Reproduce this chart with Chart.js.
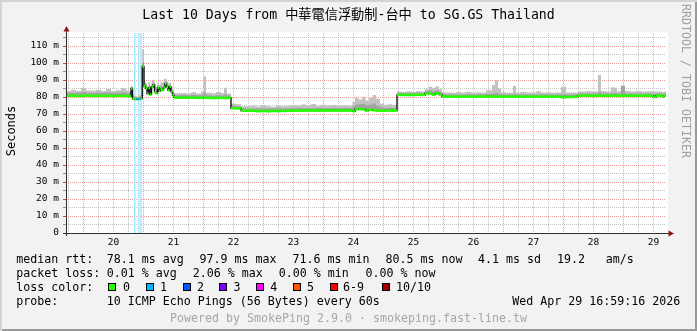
<!DOCTYPE html>
<html>
<head>
<meta charset="utf-8">
<title>SmokePing - SG.GS Thailand</title>
<script src="https://cdn.jsdelivr.net/npm/chart.js@4.4.1/dist/chart.umd.min.js"></script>
<style>
  html, body { margin: 0; padding: 0; background: #f2f2f2; }
  #graph { position: relative; width: 697px; height: 331px; overflow: hidden; background: #f2f2f2;
           box-shadow: inset 2px 2px 0 #d4d4d4, inset -2px -2px 0 #9a9a9a; }
  #graph canvas { position: absolute; left: 0; top: 0; }
  .t { position: absolute; font-family: 'DejaVu Sans Mono', monospace; font-size: 11.63px; line-height: 14px; white-space: pre; color: #000; }
  .l1 { top: 251.7px; } .l2 { top: 265.7px; } .l3 { top: 279.7px; } .l4 { top: 293.7px; }
  #title { left: 0; width: 697px; top: 6.7px; text-align: center; font-size: 13.2px; line-height: 16px;
           font-family: 'DejaVu Sans Mono', 'Noto Sans CJK TC', monospace; }
  #ytitle { left: -19.5px; top: 124px; width: 60px; text-align: center; transform: rotate(-90deg); font-size: 12px; }
  #side { left: 693px; top: 4px; color: #a0a0a0; transform-origin: 0 0; transform: rotate(90deg); }
  #powered { left: 0; width: 697px; text-align: center; top: 310.7px; color: #a6a6a6; }
  .box { position: absolute; top: 283px; width: 6px; height: 6px; border: 1px solid #000; }
</style>
</head>
<body>
<div id="graph">
  <canvas id="chart" width="697" height="331"></canvas>
  <div class="t" id="title">Last 10 Days from 中華電信浮動制-台中 to SG.GS Thailand</div>
  <div class="t" id="ytitle">Seconds</div>
  <div class="t" id="side">RRDTOOL / TOBI OETIKER</div>

  <div class="t l1" style="left:16.3px">median rtt:</div>
  <div class="t l1" style="left:106.7px">78.1 ms avg</div>
  <div class="t l1" style="left:199.4px">97.9 ms max</div>
  <div class="t l1" style="left:292.6px">71.6 ms min</div>
  <div class="t l1" style="left:385.4px">80.5 ms now</div>
  <div class="t l1" style="left:478px">4.1 ms sd</div>
  <div class="t l1" style="left:557px">19.2</div>
  <div class="t l1" style="left:605.8px">am/s</div>

  <div class="t l2" style="left:16.3px">packet loss:</div>
  <div class="t l2" style="left:106.7px">0.01 % avg</div>
  <div class="t l2" style="left:192.7px">2.06 % max</div>
  <div class="t l2" style="left:278.7px">0.00 % min</div>
  <div class="t l2" style="left:365.4px">0.00 % now</div>

  <div class="t l3" style="left:16.3px">loss color:</div>
  <span class="box" style="left:108.3px;background:#26ff00"></span><div class="t l3" style="left:123px">0</div>
  <span class="box" style="left:145.7px;background:#00b8ff"></span><div class="t l3" style="left:160px">1</div>
  <span class="box" style="left:182.7px;background:#0059ff"></span><div class="t l3" style="left:197px">2</div>
  <span class="box" style="left:219.3px;background:#7e00ff"></span><div class="t l3" style="left:233.6px">3</div>
  <span class="box" style="left:256px;background:#ff00ff"></span><div class="t l3" style="left:270.3px">4</div>
  <span class="box" style="left:292.7px;background:#ff5500"></span><div class="t l3" style="left:307px">5</div>
  <span class="box" style="left:330px;background:#ff0000"></span><div class="t l3" style="left:343px">6-9</div>
  <span class="box" style="left:381.7px;background:#a10000"></span><div class="t l3" style="left:396px">10/10</div>

  <div class="t l4" style="left:16.3px">probe:</div>
  <div class="t l4" style="left:106.7px">10 ICMP Echo Pings (56 Bytes) every 60s</div>
  <div class="t l4" style="left:512.3px">Wed Apr 29 16:59:16 2026</div>
  <div class="t" id="powered">Powered by SmokePing 2.9.0 · smokeping.fast-line.tw</div>
</div>

<script>
// time axis: hours since Apr 19 17:00, 240 h = 10 days
const hours = [
  0, 2, 4, 6, 8, 10, 12, 14, 16, 18, 20, 22, 24, 25.4,
  26, 26.6, 27.4, 28.2, 29, 29.8, 30.5, 31.2, 31.8, 32.4, 33, 33.6, 34.2, 34.8, 35.4,
  36, 36.6, 37.2, 37.8, 38.4, 39, 39.6, 40.2, 40.8, 41.4, 42, 42.6, 43.2, 44,
  46, 48, 50, 52, 54, 55, 56, 58, 60, 62, 63.2, 64.4, 65, 66, 68, 70,
  72, 74, 76, 78, 80, 82, 84, 86, 88, 90, 92, 94, 96, 98, 100, 102, 104, 106, 108, 110, 112, 114,
  114.6, 115.6, 117, 118.4, 119.8, 121.2, 122.6, 124, 125.6, 127.2, 128.8, 130.4, 132.4,
  134, 136, 138, 140, 142, 143.6, 145, 146.4, 147.8, 149.2, 150.4,
  152, 154, 156, 158, 160, 162, 164, 166, 168, 170.4, 171.6, 172.8, 174, 176, 178.8,
  180, 182, 184, 186, 188, 190, 192, 194, 196, 198, 200, 202, 204.8,
  206, 208, 210, 212.8, 214, 216, 218, 219.2, 220.4, 222, 223.6, 226, 228, 230, 232, 234.8, 236, 238.4, 239.2, 240
];

// median rtt (ms)
const median = [
  80.8, 80.7, 80.6, 80.7, 80.8, 80.6, 80.7, 80.6, 80.7, 80.6, 80.7, 80.6, 80.5, 80.4,
  85.0, 78.9, 78.8, 78.7, 78.9, 79.1, 97.9, 86.5, 85.0, 82.0, 85.5, 81.5, 86.0, 87.2, 83.0,
  82.2, 85.5, 83.5, 84.8, 84.2, 85.5, 87.8, 86.0, 84.0, 86.0, 83.0, 81.0, 79.8, 79.6,
  79.7, 79.6, 79.6, 79.5, 79.6, 79.6, 79.5, 79.4, 79.5, 79.5, 79.4, 79.5, 79.6, 73.4, 73.3, 72.0,
  72.0, 71.9, 71.7, 71.8, 71.6, 71.8, 71.7, 71.9, 72.0, 72.0, 72.0, 72.0, 72.1, 72.0, 72.0, 72.1, 72.0, 72.1, 72.0, 72.0, 72.1, 72.0,
  71.6, 72.8, 72.9, 72.7, 72.0, 72.6, 72.2, 72.0, 72.0, 72.0, 72.1, 72.0, 81.2,
  81.3, 81.2, 81.2, 81.3, 81.2, 82.2, 82.0, 81.4, 82.1, 81.5, 80.3,
  80.2, 80.2, 80.1, 80.2, 80.2, 80.1, 80.2, 80.2, 80.3, 80.2, 80.2, 80.2, 80.1, 80.2, 80.2,
  80.2, 80.1, 80.2, 80.1, 80.2, 80.1, 80.2, 80.1, 80.2, 79.8, 80.0, 80.1, 80.8,
  80.8, 80.8, 80.7, 80.8, 80.8, 80.7, 80.8, 80.8, 80.7, 80.8, 80.8, 80.7, 80.8, 80.8, 80.7, 80.0, 80.8, 80.2, 80.8, 80.5
];

// top of the dense (dark) smoke
const smokeMid = [
  82.6, 82.4, 82.7, 82.9, 82.5, 82.4, 82.6, 82.5, 82.6, 82.4, 82.5, 82.6, 82.4, 82.3,
  86.0, 80.3, 79.8, 79.6, 79.8, 80.2, 100.5, 88.0, 86.6, 84.0, 87.0, 83.5, 87.5, 88.5, 85.0,
  84.0, 87.0, 85.2, 86.5, 86.0, 87.2, 89.0, 87.6, 86.0, 87.2, 84.5, 82.5, 81.2, 81.0,
  81.2, 81.0, 81.3, 81.0, 81.2, 82.5, 81.0, 80.8, 81.0, 80.9, 81.4, 80.8, 80.9, 74.8, 74.6, 73.4,
  73.3, 73.2, 73.3, 73.2, 73.3, 73.2, 73.4, 73.2, 73.3, 73.4, 73.5, 73.4, 73.5, 73.4, 73.5, 73.6, 73.5, 73.6, 73.5, 73.6, 73.5, 73.4,
  74.5, 75.5, 75.8, 76.0, 75.2, 75.6, 76.2, 74.8, 73.8, 73.6, 73.7, 73.5, 82.3,
  82.4, 82.3, 82.4, 82.5, 82.4, 83.5, 83.8, 83.2, 83.9, 83.0, 81.5,
  81.5, 81.4, 81.5, 81.5, 81.6, 81.5, 81.5, 81.6, 81.8, 82.0, 82.5, 81.8, 81.5, 81.5, 81.8,
  81.5, 81.5, 81.4, 81.5, 81.5, 81.4, 81.5, 81.5, 81.4, 81.6, 81.4, 81.5, 82.0,
  82.0, 82.1, 82.0, 83.0, 82.1, 82.0, 82.2, 82.4, 82.0, 86.5, 82.1, 82.0, 82.1, 82.0, 82.1, 81.8, 82.0, 81.8, 82.0, 82.0
];

// highest ping of each sample (light smoke)
const smokeTop = [
  83.6, 84.3, 83.5, 85.3, 83.8, 83.7, 84.1, 83.5, 84.7, 83.6, 84.0, 85.2, 83.8, 83.5,
  86.5, 81.5, 80.6, 80.5, 81.0, 81.2, 108.3, 89.5, 88.0, 86.0, 89.0, 86.5, 89.5, 90.2, 87.5,
  86.0, 88.8, 87.0, 89.0, 88.5, 90.5, 90.8, 89.2, 88.0, 88.5, 86.0, 84.0, 82.5, 82.2,
  82.3, 82.0, 82.8, 82.0, 83.2, 92.0, 82.5, 82.2, 83.0, 82.4, 85.5, 82.0, 82.0, 76.0, 75.8, 74.6,
  74.5, 74.8, 74.4, 75.3, 74.6, 74.3, 75.0, 74.5, 74.7, 75.2, 74.8, 75.6, 75.0, 75.9, 74.9, 75.4, 74.8, 75.3, 74.9, 75.2, 74.8, 74.7,
  77.0, 79.5, 78.5, 80.2, 78.0, 79.5, 81.2, 79.0, 76.0, 75.5, 75.8, 75.2, 83.2,
  83.0, 83.4, 83.1, 83.5, 83.2, 84.5, 86.0, 85.5, 86.2, 84.5, 82.8,
  82.7, 82.5, 83.0, 82.6, 82.9, 82.6, 82.8, 82.7, 84.0, 87.0, 90.0, 85.0, 82.8, 82.5, 86.6,
  82.6, 82.9, 82.6, 82.7, 83.4, 82.6, 82.8, 82.5, 82.7, 86.0, 82.6, 82.7, 83.4,
  83.2, 83.5, 83.3, 93.0, 83.6, 83.2, 85.8, 85.5, 83.4, 86.8, 83.5, 83.3, 83.6, 83.2, 83.4, 83.3, 83.3, 83.0, 83.2, 83.2
];

// columns where pings were lost, and the median samples that carry a loss colour
const lossHours = [27.5, 29.1, 30.0];
const lossMedianHours = [28.2, 29.0];
const lossMedianCount = [1, 1];

const dayLabels = ['20', '21', '22', '23', '24', '25', '26', '27', '28', '29'];
const lossColors = ['#26ff00', '#00b8ff', '#0059ff', '#7e00ff', '#ff00ff', '#ff5500', '#ff0000', '#a10000'];

const Y_MAX = 117.65;
const X_END = 240;
const GRID_MINOR = 'rgba(150,150,150,0.55)';
const GRID_MAJOR = 'rgba(215,60,60,0.5)';
const TICK_MINOR = 'rgba(110,110,110,0.7)';
const TICK_MAJOR = 'rgba(170,40,40,0.8)';

Chart.defaults.font.family = "'DejaVu Sans Mono', monospace";

function sampleColor(i) {
  const k = lossMedianHours.indexOf(hours[i]);
  return k < 0 ? lossColors[0] : lossColors[lossMedianCount[k]];
}

const pts = arr => hours.map((h, i) => ({ x: h, y: arr[i] }));

const isMidnight = c => !!c.tick && (c.tick.value - 7) % 24 === 0;
const isTen = c => !!c.tick && c.tick.value % 10 === 0;

// flat pieces of the median only, so jumps show the dark line underneath
const medianPieces = [];
for (let i = 0; i < hours.length - 1; i++) {
  medianPieces.push({ x: hours[i], y: median[i] }, { x: hours[i + 1], y: median[i] }, { x: hours[i + 1], y: null });
}

// full-height loss columns, one vertical stroke each
const lossColumns = [];
lossHours.forEach(h => lossColumns.push({ x: h, y: 0 }, { x: h, y: Y_MAX }, { x: h, y: null }));

const frame = {
  id: 'frame',
  beforeDraw(chart) {
    const { ctx, chartArea: a } = chart;
    ctx.save();
    ctx.fillStyle = '#ffffff';
    ctx.fillRect(a.left, a.top - 1, a.right - a.left + 2, a.bottom - a.top + 1);
    ctx.restore();
  },
  afterDraw(chart) {
    const { ctx, chartArea: a } = chart;
    ctx.save();
    ctx.strokeStyle = '#303030';
    ctx.lineWidth = 1;
    ctx.beginPath();
    ctx.moveTo(a.left + 0.5, a.bottom + 3);
    ctx.lineTo(a.left + 0.5, a.top - 3);
    ctx.moveTo(a.left - 3, a.bottom + 0.5);
    ctx.lineTo(a.right + 4, a.bottom + 0.5);
    ctx.stroke();
    ctx.fillStyle = '#8c1414';
    ctx.beginPath();
    ctx.moveTo(a.left + 0.5, a.top - 7);
    ctx.lineTo(a.left - 2.5, a.top - 1.5);
    ctx.lineTo(a.left + 3.5, a.top - 1.5);
    ctx.fill();
    ctx.beginPath();
    ctx.moveTo(a.right + 8, a.bottom + 0.5);
    ctx.lineTo(a.right + 2.5, a.bottom - 2.5);
    ctx.lineTo(a.right + 2.5, a.bottom + 3.5);
    ctx.fill();
    ctx.restore();
  }
};

new Chart(document.getElementById('chart'), {
  type: 'line',
  data: {
    datasets: [
      { data: lossColumns, borderColor: '#a9e3fa', borderWidth: 1.4, borderCapStyle: 'butt',
        pointRadius: 0, fill: false, order: 5 },
      { data: pts(smokeTop), stepped: true, borderWidth: 0, borderColor: 'rgba(0,0,0,0)', pointRadius: 0,
        backgroundColor: '#c2c2c2', fill: 3, order: 4 },
      { data: pts(smokeMid), stepped: true, borderWidth: 0, borderColor: 'rgba(0,0,0,0)', pointRadius: 0,
        backgroundColor: '#a2a2a2', fill: 3, order: 3 },
      { data: pts(median), stepped: true, borderColor: '#111111', borderWidth: 1.4, pointRadius: 0,
        fill: false, order: 2 },
      { data: medianPieces, borderWidth: 2.6, borderCapStyle: 'butt', pointRadius: 0, fill: false, order: 1,
        borderColor: lossColors[0],
        segment: { borderColor: c => sampleColor(Math.floor(c.p0DataIndex / 3)) } }
    ]
  },
  options: {
    responsive: false,
    animation: false,
    devicePixelRatio: 1,
    layout: { padding: { left: 0, top: 33, right: 31, bottom: 82 } },
    plugins: { legend: { display: false }, tooltip: { enabled: false } },
    scales: {
      x: {
        type: 'linear', min: 0, max: X_END, offset: false,
        afterFit: s => { s.height = 16; },
        afterBuildTicks: s => {
          const t = [];
          for (let h = 1; h < X_END; h += 6) t.push({ value: h });
          s.ticks = t;
        },
        ticks: {
          autoSkip: false, maxRotation: 0, minRotation: 0, padding: 4, color: '#000', font: { size: 9.5 },
          callback: v => (v - 19) % 24 === 0 ? dayLabels[(v - 19) / 24] : ''
        },
        grid: {
          color: c => isMidnight(c) ? GRID_MAJOR : GRID_MINOR,
          drawTicks: false
        },
        border: { display: false, dash: [1, 1] }
      },
      y: {
        type: 'linear', min: 0, max: Y_MAX,
        afterFit: s => { s.width = 66; },
        ticks: {
          stepSize: 5, includeBounds: false, autoSkip: false, padding: 4, color: '#000', font: { size: 9.5 },
          callback: v => v % 10 ? '' : (v ? v + ' m' : '0')
        },
        grid: {
          color: c => isTen(c) ? GRID_MAJOR : GRID_MINOR,
          tickLength: 3,
          tickColor: c => isTen(c) ? TICK_MAJOR : TICK_MINOR
        },
        border: { display: false, dash: [1, 1] }
      }
    }
  },
  plugins: [frame]
});
</script>
</body>
</html>
